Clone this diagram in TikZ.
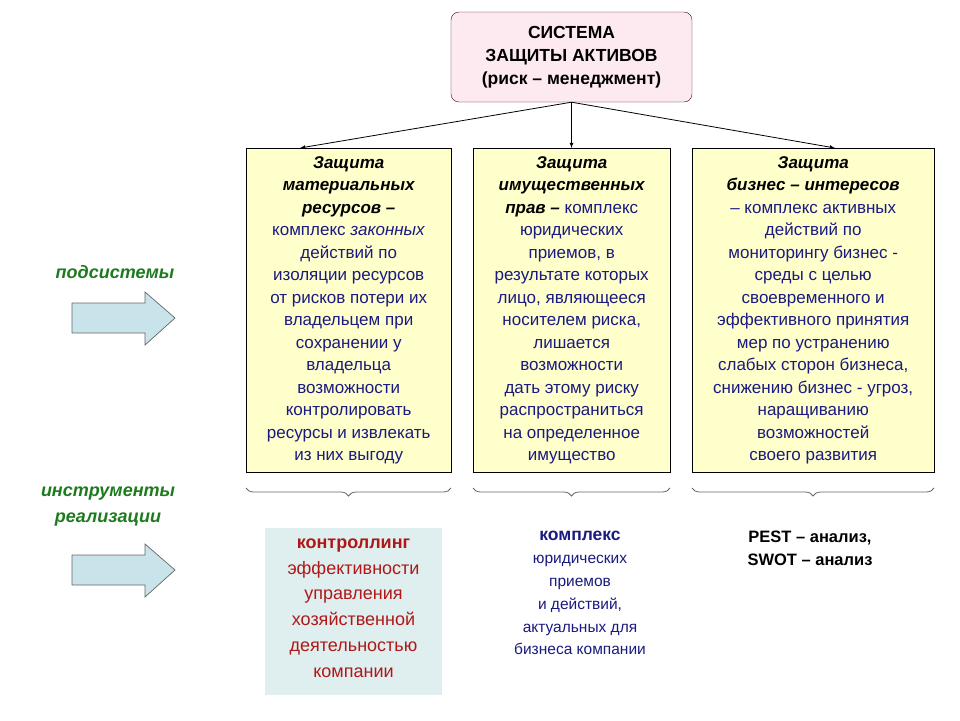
\documentclass[tikz,border=0pt]{standalone}
\usepackage{fontspec}
\setmainfont{Liberation Sans}
\usetikzlibrary{decorations.pathreplacing}
\definecolor{navy}{HTML}{1A1A80}
\definecolor{darkred}{HTML}{B01818}
\definecolor{leafgreen}{HTML}{1E7A1E}
\definecolor{paleyellow}{HTML}{FFFFCC}
\definecolor{palepink}{HTML}{FDEAF0}
\definecolor{palecyan}{HTML}{DFEEEF}
\definecolor{arrowblue}{HTML}{C8E4EA}
\tikzset{
  topbox/.style={draw=black!70!red, fill=palepink, rounded corners=8pt, minimum width=241pt, minimum height=90pt, align=center, font=\fontsize{17.5}{23}\selectfont\bfseries},
  subbox/.style={draw=black, fill=paleyellow, anchor=north west, minimum height=324pt, inner sep=0pt, align=center, text=navy, font=\fontsize{17}{22.5}\selectfont},
  link/.style={-latex, line width=0.8pt},
  brace/.style={decorate, decoration={brace, mirror, amplitude=8pt}, draw=black!60, line width=0.8pt},
  bigarrow/.style={draw=black!60, fill=arrowblue, line width=0.7pt},
  sidelabel/.style={text=leafgreen, align=center, font=\fontsize{18}{26}\selectfont\bfseries\itshape},
  toolnote/.style={align=center, font=\fontsize{18}{25.8}\selectfont}
}
\begin{document}
\begin{tikzpicture}[x=1pt, y=-1pt]
\useasboundingbox (0,0) rectangle (960,720);
% top box
\node[topbox] (top) at (571.5,57) {СИСТЕМА\\ЗАЩИТЫ АКТИВОВ\\(риск -- менеджмент)};
% three subsystems
\node[subbox, minimum width=205pt] (mat) at (246,148) {\textcolor{black}{\bfseries\itshape Защита}\\\textcolor{black}{\bfseries\itshape материальных}\\\textcolor{black}{\bfseries\itshape ресурсов --}\\комплекс \textit{законных}\\действий по\\изоляции ресурсов\\от рисков потери их\\владельцем при\\сохранении у\\владельца\\возможности\\контролировать\\ресурсы и извлекать\\из них выгоду};
\node[subbox, minimum width=197pt] (prop) at (473,148) {\textcolor{black}{\bfseries\itshape Защита}\\\textcolor{black}{\bfseries\itshape имущественных}\\\textcolor{black}{\bfseries\itshape прав --} комплекс\\юридических\\приемов, в\\результате которых\\лицо, являющееся\\носителем риска,\\лишается\\возможности\\дать этому риску\\распространиться\\на определенное\\имущество};
\node[subbox, minimum width=242pt] (biz) at (692,148) {\textcolor{black}{\bfseries\itshape Защита}\\\textcolor{black}{\bfseries\itshape бизнес -- интересов}\\-- комплекс активных\\действий по\\мониторингу бизнес -\\среды с целью\\своевременного и\\эффективного принятия\\мер по устранению\\слабых сторон бизнеса,\\снижению бизнес - угроз,\\наращиванию\\возможностей\\своего развития};
% connectors
\draw[link] (top.south) -- (mat.north -| 300,0);
\draw[link] (top.south) -- (prop.north -| top.south);
\draw[link] (top.south) -- (biz.north -| 835,0);
% braces
\draw[brace] (246,488) -- (451,488);
\draw[brace] (473,488) -- (670,488);
\draw[brace] (692,488) -- (934,488);
% left side
\node[sidelabel] (subs) at (115,272) {подсистемы};
\draw[bigarrow] (72,303) -- (145,303) -- (145,292) -- (175,318) -- (145,345) -- (145,333) -- (72,333) -- cycle;
\node[sidelabel] (inst) at (108,507) {инструменты\\реализации};
\draw[bigarrow] (72,555) -- (145,555) -- (145,544) -- (175,570) -- (145,597) -- (145,585) -- (72,585) -- cycle;
% tools
\node[fill=palecyan, minimum width=177pt, minimum height=167pt] (ctrl) at (353.5,611.5) {};
\node[toolnote, text=darkred, anchor=north] (ctrltxt) at (353.5,535) {\textbf{контроллинг}\\эффективности\\управления\\хозяйственной\\деятельностью\\компании};
\node[toolnote, text=navy, anchor=north, font=\fontsize{15.5}{22.8}\selectfont] (law) at (580,528) {{\fontsize{17.5}{20}\selectfont\bfseries комплекс}\\юридических\\приемов\\и действий,\\актуальных для\\бизнеса компании};
\node[toolnote, anchor=north, font=\fontsize{16.5}{23}\selectfont\bfseries] (pest) at (810,527) {PEST -- анализ,\\SWOT -- анализ};
\end{tikzpicture}
\end{document}
